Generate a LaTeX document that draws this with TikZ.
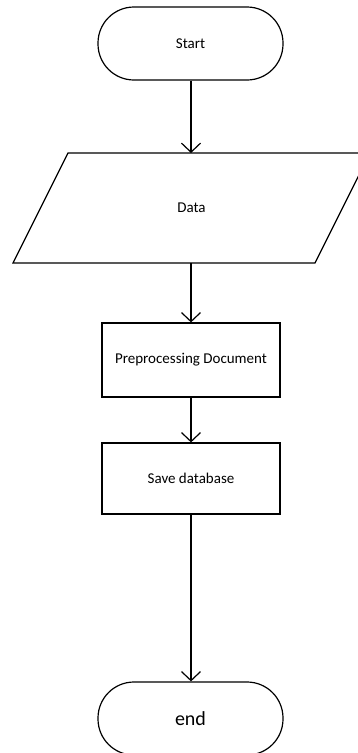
\documentclass[tikz,border=0pt]{standalone}
\usepackage{fontspec}
\setmainfont{Carlito}
\usetikzlibrary{arrows.meta}
\begin{document}
\begin{tikzpicture}[x=1pt,y=-1pt,
  line width=1.2pt,
  txt/.style={font=\fontsize{15}{18}\selectfont},
  terminal/.style={draw, rounded corners=36pt, minimum width=185pt,
    minimum height=73pt, inner sep=0pt, txt},
  procbox/.style={draw, minimum width=178pt, inner sep=0pt, txt},
  flow/.style={-{Straight Barb[length=9pt,width=19pt]}}]
\useasboundingbox (0,0) rectangle (358,753);
\clip (0,0) rectangle (358,753);

% terminals
\node[terminal] (start) at (190.5,43.5) {Start};
\node[terminal, font=\fontsize{20}{24}\selectfont] (end) at (190.5,718.5) {end};

% input parallelogram
\draw (68,153) -- (370,153) -- (315,263) -- (13,263) -- cycle;
\node[txt] (data) at (191.5,208) {Data};
\coordinate (dataN) at (191,153);
\coordinate (dataS) at (191,263);

% process boxes
\node[procbox, minimum height=74pt] (prep) at (191,360)
  {Preprocessing Document};
\node[procbox, minimum height=71pt] (save) at (191,478.5)
  {Save database};

% connectors
\draw[flow] (start.south -| dataN) -- (dataN);
\draw[flow] (dataS) -- (prep.north);
\draw[flow] (prep) -- (save);
\draw[flow] (save.south) -- (save.south |- end.north);
\end{tikzpicture}
\end{document}
